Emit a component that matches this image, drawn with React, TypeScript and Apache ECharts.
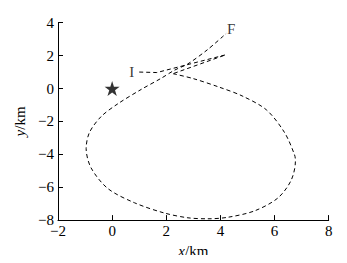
import React, { useEffect, useRef } from "react";
import * as echarts from "echarts";

// Approach segment: start at I, out and back
const approachPath: [number, number][] = [
  [1.0, 1.0], [1.65, 0.97], [4.2, 2.05], [2.25, 0.9],
];

// Main loop from the turning point to F
const loopPath: [number, number][] = [
  [2.25, 0.9], [3.0, 0.6], [3.96, 0.08], [4.8, -0.45], [5.7, -1.3],
  [6.37, -2.68], [6.74, -4.04], [6.77, -4.43], [6.61, -5.59], [6.12, -6.66],
  [5.26, -7.44], [4.27, -7.83], [3.53, -7.92], [2.8, -7.86], [1.93, -7.57],
  [0.83, -6.95], [-0.16, -6.08], [-0.78, -4.82], [-0.96, -3.65], [-0.84, -2.68],
  [-0.41, -1.71], [0.21, -0.93], [1.07, -0.06], [1.81, 0.62], [2.3, 1.11],
  [2.8, 1.5], [3.53, 2.37], [4.21, 3.34],
];

const starPoint: [number, number][] = [[0, 0]];
const labelPoints: { name: string; value: [number, number] }[] = [
  { name: "I", value: [0.72, 0.98] },
  { name: "F", value: [4.4, 3.6] },
];

const xTicks = { min: -2, max: 8, interval: 2 };
const yTicks = { min: -8, max: 4, interval: 2 };

const STAR =
  "path://M50,0 L61.8,35.1 L98.8,35.1 L68.9,56.9 L80.3,91.9 L50,70.3 L19.7,91.9 L31.1,56.9 L1.2,35.1 L38.2,35.1 Z";

const FONT = "Liberation Serif";

export default function App() {
  const ref = useRef<HTMLDivElement>(null);
  useEffect(() => {
    if (!ref.current) return;
    const chart = echarts.init(ref.current, null, { renderer: "svg" });
    const fmt = (v: number) => String(v).replace("-", "\u2212");
    const lineStyle = { color: "#000", width: 1, type: [4, 3] as any };
    const nameStyle = {
      fontFamily: FONT,
      fontSize: 15,
      color: "#000",
      rich: {
        i: { fontFamily: FONT, fontSize: 15, fontStyle: "italic", color: "#000" },
        n: { fontFamily: FONT, fontSize: 15, color: "#000" },
      },
    };
    chart.setOption({
      animation: false,
      grid: { left: 58, top: 22.7, right: 18.3, bottom: 34.3 },
      xAxis: {
        type: "value",
        ...xTicks,
        name: "{i|x}{n|/km}",
        nameLocation: "middle",
        nameGap: 19,
        nameTextStyle: nameStyle,
        axisLine: { show: true, onZero: false, lineStyle: { color: "#000", width: 1 } },
        axisTick: { show: true, inside: true, length: 5, lineStyle: { color: "#000" } },
        axisLabel: { fontFamily: FONT, fontSize: 15, color: "#000", margin: 3, formatter: fmt },
        splitLine: { show: false },
      },
      yAxis: {
        type: "value",
        ...yTicks,
        name: "{i|y}{n|/km}",
        nameLocation: "middle",
        nameGap: 21,
        nameRotate: 90,
        nameTextStyle: nameStyle,
        axisLine: { show: true, onZero: false, lineStyle: { color: "#000", width: 1 } },
        axisTick: { show: true, inside: true, length: 5, lineStyle: { color: "#000" } },
        axisLabel: { fontFamily: FONT, fontSize: 15, color: "#000", margin: 4, formatter: fmt },
        splitLine: { show: false },
      },
      series: [
        {
          type: "line",
          data: approachPath,
          showSymbol: false,
          smooth: false,
          lineStyle,
        },
        {
          type: "line",
          data: loopPath,
          showSymbol: false,
          smooth: 0.3,
          lineStyle,
        },
        {
          type: "scatter",
          data: starPoint,
          symbol: STAR,
          symbolSize: 15,
          itemStyle: { color: "#000" },
        },
        {
          type: "scatter",
          data: labelPoints,
          symbolSize: 0,
          label: {
            show: true,
            position: "inside",
            formatter: (p: any) => p.name,
            fontFamily: FONT,
            fontSize: 15,
            color: "#000",
          },
        },
      ],
    });
    return () => chart.dispose();
  }, []);
  return <div ref={ref} style={{ width: 347, height: 263, margin: -8 }} />;
}
